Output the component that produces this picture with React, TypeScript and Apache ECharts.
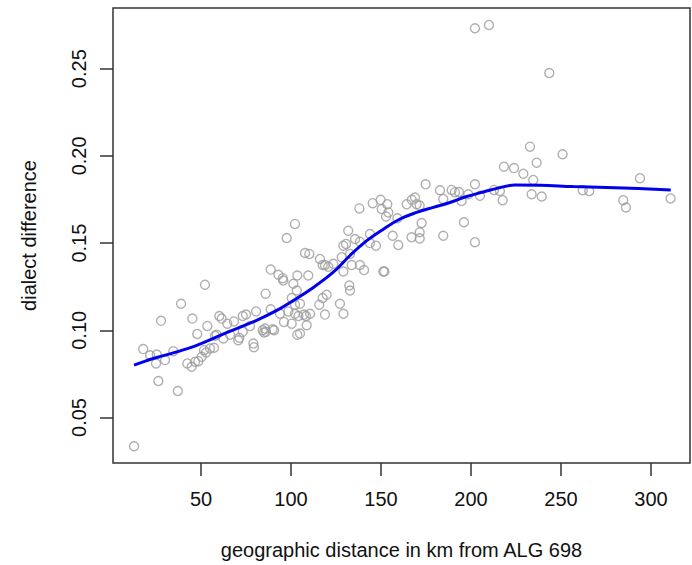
import React, { useEffect, useRef } from "react";
import * as echarts from "echarts";

// Scatter: geographic distance (km) vs dialect difference
const distances = [
  12.8, 17.9, 21.7, 25.4, 25.0, 30.0, 27.8, 26.3, 34.6, 37.1, 38.9, 42.4, 44.8, 45.2, 48.5, 47.9,
  52.2, 53.5, 50.4, 52.8, 55.0, 57.2, 58.7, 60.2, 61.5, 62.4, 64.6, 66.1, 68.3, 70.7, 73.2, 75.0,
  73.2, 77.2, 79.1, 79.4, 80.6, 85.0, 85.6, 85.9, 88.7, 88.7, 90.6, 93.0, 95.4, 95.7, 93.9, 96.1,
  97.6, 100.4, 100.4, 101.3, 103.2, 103.5, 103.5, 102.2, 104.1, 107.8, 108.7, 108.3, 109.6, 102.2,
  84.3, 86.1, 89.8, 57.8, 71.3, 98.5, 102.2, 107.2, 110.6, 46.7, 51.7, 105.0, 117.6, 119.8, 115.7,
  127.2, 129.1, 118.9, 105.0, 110.2, 116.1, 128.2, 118.9, 123.5, 129.1, 132.8, 117.6, 120.7, 133.7,
  138.3, 140.6, 151.3, 151.9, 132.4, 132.8, 131.8, 143.9, 156.5, 159.6, 167.0, 171.5, 171.5, 172.6,
  184.6, 196.1, 202.2, 135.6, 138.3, 143.9, 147.2, 129.1, 130.6, 138.0, 145.4, 149.8, 150.4, 153.5,
  154.1, 152.8, 159.1, 164.3, 167.1, 168.9, 169.8, 171.5, 174.8, 182.8, 184.6, 189.3, 191.1, 193.3,
  194.8, 198.5, 202.2, 205.0, 212.8, 202.2, 210.0, 243.5, 232.8, 250.9, 236.5, 218.3, 223.9, 229.1,
  234.6, 233.7, 239.3, 216.1, 217.6, 262.1, 265.7, 284.6, 286.1, 293.9, 310.9,
];
const differences = [
  0.0335, 0.0892, 0.0857, 0.0861, 0.081, 0.0829, 0.1054, 0.0709, 0.088, 0.0652, 0.1152, 0.081, 0.0791, 0.1067, 0.0823, 0.0979,
  0.1261, 0.1025, 0.0848, 0.0873, 0.0896, 0.09, 0.0975, 0.1082, 0.1067, 0.0953, 0.1038, 0.0975, 0.1051, 0.0943, 0.1082, 0.109,
  0.0991, 0.1025, 0.0924, 0.0903, 0.1108, 0.0987, 0.101, 0.121, 0.1348, 0.112, 0.1, 0.1318, 0.1299, 0.1285, 0.1095, 0.1048,
  0.1529, 0.1185, 0.1038, 0.1267, 0.1228, 0.1314, 0.0975, 0.1095, 0.1082, 0.1443, 0.1029, 0.1082, 0.1314, 0.161,
  0.1, 0.0991, 0.1006, 0.0968, 0.0957, 0.1108, 0.1147, 0.109, 0.1095, 0.082, 0.0886, 0.1152, 0.1185, 0.1204, 0.1147,
  0.1152, 0.1095, 0.109, 0.0981, 0.1438, 0.1409, 0.1419, 0.1375, 0.1381, 0.1337, 0.1438, 0.1374, 0.1364, 0.1374,
  0.1374, 0.1345, 0.1337, 0.1337, 0.1257, 0.1228, 0.1571, 0.1552, 0.1542, 0.1489, 0.1533, 0.1562, 0.1527, 0.1615,
  0.1542, 0.1619, 0.1505, 0.1523, 0.1508, 0.15, 0.1485, 0.1485, 0.1495, 0.1699, 0.1729, 0.1748, 0.1695, 0.1723,
  0.1676, 0.1653, 0.1642, 0.1723, 0.1748, 0.1761, 0.1723, 0.1715, 0.1837, 0.1803, 0.1753, 0.1805, 0.1792, 0.1793,
  0.1742, 0.178, 0.1837, 0.1771, 0.1805, 0.2732, 0.2751, 0.2475, 0.2053, 0.2009, 0.1961, 0.1938, 0.193, 0.1898,
  0.1862, 0.178, 0.1767, 0.1799, 0.1746, 0.1803, 0.1799, 0.1746, 0.1704, 0.1872, 0.1756,
];

// Smoothed (loess) curve
const smoothX = [12.8, 23.5, 36.5, 47.6, 58.7, 69.8, 80.9, 92.1, 101.3, 110.6, 123.5, 132.8, 142.1, 151.3, 160.6, 169.8, 179.1, 188.3, 197.6, 206.8, 216.1, 224.4, 238.3, 256.8, 284.6, 311.0];
const smoothY = [0.08, 0.0838, 0.0876, 0.0914, 0.0962, 0.101, 0.1057, 0.1114, 0.1171, 0.1232, 0.1333, 0.1429, 0.1514, 0.158, 0.1638, 0.1676, 0.1705, 0.1733, 0.1767, 0.1793, 0.1818, 0.1833, 0.1832, 0.1824, 0.1816, 0.1805];

const xTicks = [50, 100, 150, 200, 250, 300];
const yTicks = [0.05, 0.1, 0.15, 0.2, 0.25];
const xRange = [1.1, 321.7];
const yRange = [0.0239, 0.2848];

const xTitle = "geographic distance in km from ALG 698";
const yTitle = "dialect difference";

export default function App() {
  const ref = useRef<HTMLDivElement>(null);
  useEffect(() => {
    if (!ref.current) return;
    const chart = echarts.init(ref.current, null, { renderer: "svg" });
    const font = "'Liberation Sans', Arial, Helvetica, sans-serif";
    const textColor = "#111";
    const lineColor = "#333";
    chart.setOption({
      animation: false,
      backgroundColor: "#fff",
      textStyle: { fontFamily: font },
      grid: {
        left: 113,
        right: 2,
        top: 8,
        bottom: 100,
        show: true,
        borderColor: lineColor,
        borderWidth: 1.5,
        backgroundColor: "transparent",
      },
      xAxis: {
        type: "value",
        min: xRange[0],
        max: xRange[1],
        splitLine: { show: false },
        axisLine: { show: false },
        axisTick: {
          show: true,
          customValues: xTicks,
          length: 13,
          lineStyle: { color: lineColor, width: 1.5 },
        },
        axisLabel: {
          customValues: xTicks,
          margin: 26,
          fontSize: 20,
          color: textColor,
          fontFamily: font,
        },
        name: xTitle,
        nameLocation: "middle",
        nameGap: 77,
        nameTextStyle: { fontSize: 20, color: textColor, fontFamily: font },
      },
      yAxis: {
        type: "value",
        min: yRange[0],
        max: yRange[1],
        splitLine: { show: false },
        axisLine: { show: false },
        axisTick: {
          show: true,
          customValues: yTicks,
          length: 13,
          lineStyle: { color: lineColor, width: 1.5 },
        },
        axisLabel: {
          customValues: yTicks,
          rotate: 90,
          margin: 24,
          fontSize: 20,
          color: textColor,
          fontFamily: font,
          formatter: (v: number) => v.toFixed(2),
        },
        name: yTitle,
        nameLocation: "middle",
        nameRotate: 90,
        nameGap: 74,
        nameTextStyle: { fontSize: 20, color: textColor, fontFamily: font },
      },
      series: [
        {
          type: "scatter",
          data: distances.map((d, i) => [d, differences[i]]),
          symbol: "circle",
          symbolSize: 9,
          itemStyle: { color: "rgba(0,0,0,0)", borderColor: "#9b9b9b", borderWidth: 1.4 },
          emphasis: { disabled: true },
          z: 2,
        },
        {
          type: "line",
          data: smoothX.map((d, i) => [d, smoothY[i]]),
          showSymbol: false,
          smooth: 0.4,
          lineStyle: { color: "#0000ee", width: 3 },
          emphasis: { disabled: true },
          z: 3,
        },
      ],
    });
    return () => chart.dispose();
  }, []);
  return (
    <div
      ref={ref}
      style={{ position: "fixed", left: 0, top: 0, width: 692, height: 565, background: "#fff" }}
    />
  );
}
